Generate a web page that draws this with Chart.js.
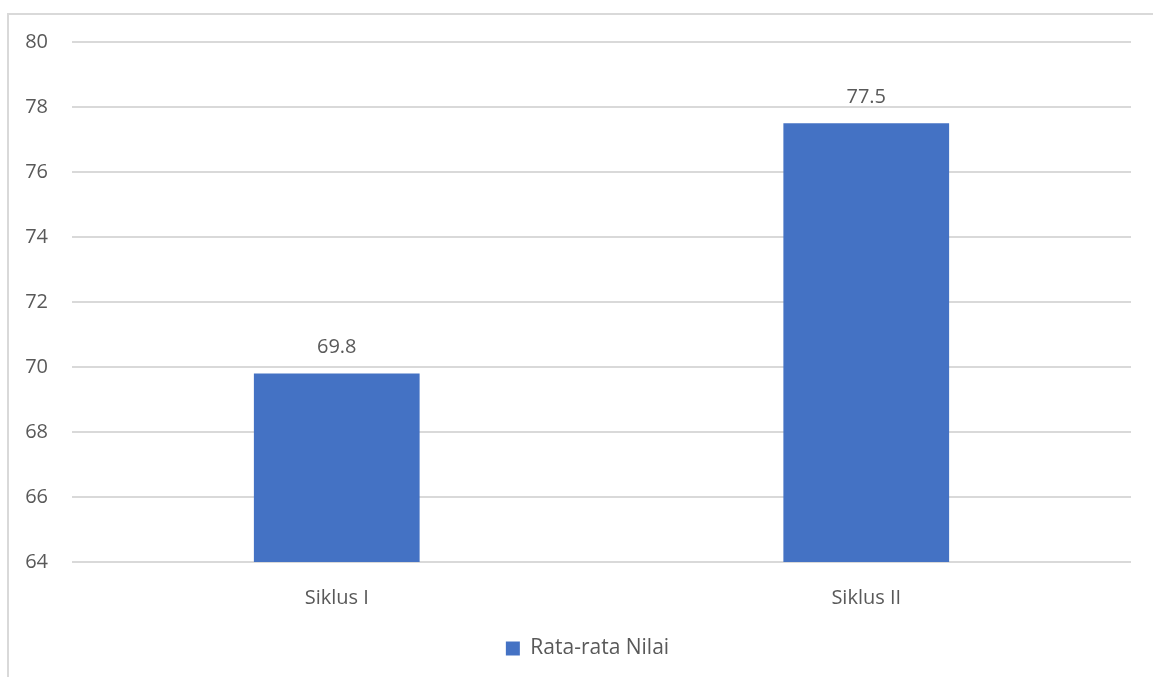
<!DOCTYPE html>
<html>
<head>
<meta charset="utf-8">
<script src="https://cdn.jsdelivr.net/npm/chart.js@4.4.1/dist/chart.umd.min.js"></script>
<style>
  html, body { margin: 0; padding: 0; background: #fff; overflow: hidden; }
  #bingkai {
    position: absolute; left: 7px; top: 13px;
    width: 1200px; height: 700px;
    border-left: 2px solid #d9d9d9; border-top: 2px solid #d9d9d9;
  }
  #wadah { position: absolute; left: 0; top: 0; width: 1153px; height: 677px; }
</style>
</head>
<body>
<div id="bingkai"></div>
<div id="wadah"><canvas id="grafik"></canvas></div>
<script>
// Data grafik
const kategori = ['Siklus I', 'Siklus II'];
const nilaiRataRata = [69.8, 77.5];
const labelSeri = 'Rata-rata Nilai';
const sumbuMin = 64;
const sumbuMax = 80;
const langkahSumbu = 2;

const warnaBatang = '#4472C4';
const warnaTeks = '#595959';
const warnaGrid = '#d9d9d9';
const hurufDasar = "'Open Sans', 'Noto Sans', sans-serif";
const ukuranHuruf = 20;

// Label nilai di atas tiap batang
const labelNilai = {
  id: 'labelNilai',
  afterDatasetsDraw(chart) {
    const ctx = chart.ctx;
    ctx.save();
    ctx.fillStyle = warnaTeks;
    ctx.font = `${ukuranHuruf}px ${hurufDasar}`;
    ctx.textAlign = 'center';
    ctx.textBaseline = 'middle';
    chart.getDatasetMeta(0).data.forEach((batang, i) => {
      ctx.fillText(nilaiRataRata[i].toFixed(1), batang.x, batang.y - 26);
    });
    ctx.restore();
  }
};

// Legenda digeser sedikit ke kanan (bingkai asli lebih lebar dari gambar)
const geserLegenda = {
  id: 'geserLegenda',
  afterLayout(chart) {
    const lg = chart.legend;
    if (!lg) return;
    lg.left += 22;
    lg.right += 22;
  }
};

new Chart(document.getElementById('grafik'), {
  type: 'bar',
  data: {
    labels: kategori,
    datasets: [{
      label: labelSeri,
      data: nilaiRataRata,
      backgroundColor: warnaBatang,
      categoryPercentage: 1.0,
      barPercentage: 0.313
    }]
  },
  options: {
    responsive: true,
    maintainAspectRatio: false,
    animation: false,
    layout: { padding: { top: 42, right: 22, bottom: 8, left: 0 } },
    plugins: {
      tooltip: { enabled: false },
      legend: {
        position: 'bottom',
        labels: {
          color: warnaTeks,
          font: { size: 21, family: hurufDasar },
          boxWidth: 14,
          boxHeight: 14,
          padding: 10
        }
      }
    },
    scales: {
      x: {
        grid: { display: false, drawTicks: false },
        border: { display: false },
        ticks: { color: warnaTeks, font: { size: ukuranHuruf, family: hurufDasar }, padding: 24 },
        afterFit(skala) { skala.height = 66; }
      },
      y: {
        min: sumbuMin,
        max: sumbuMax,
        grid: { color: warnaGrid, lineWidth: 2, drawTicks: false },
        border: { display: false },
        ticks: {
          stepSize: langkahSumbu,
          color: warnaTeks,
          font: { size: ukuranHuruf, family: hurufDasar },
          padding: 24
        },
        afterFit(skala) { skala.width = 72; }
      }
    }
  },
  plugins: [labelNilai, geserLegenda]
});
</script>
</body>
</html>
